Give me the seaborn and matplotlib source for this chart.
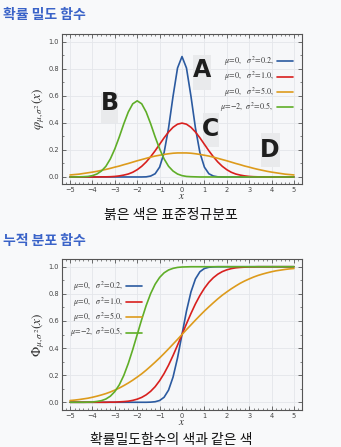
import numpy as np
import pandas as pd
import matplotlib
matplotlib.use("Agg")
import matplotlib.pyplot as plt
from matplotlib.patches import Rectangle
from matplotlib.ticker import MultipleLocator
import seaborn as sns

# ---------------- data ----------------
x = np.round(np.linspace(-5, 5, 51), 1)

pdf_a = [0, 0, 0, 0, 0, 0, 0, 0, 0, 0, 0, 0, 0, 0, 0, 0, 0,
         0.001, 0.007, 0.024, 0.073, 0.180, 0.363, 0.598, 0.807, 0.892,
         0.807, 0.598, 0.363, 0.180, 0.073, 0.024, 0.007, 0.001,
         0, 0, 0, 0, 0, 0, 0, 0, 0, 0, 0, 0, 0, 0, 0, 0, 0]
pdf_c = [0, 0, 0, 0, 0, 0, 0, 0.001, 0.001, 0.002, 0.004, 0.008, 0.014, 0.022,
         0.035, 0.054, 0.079, 0.111, 0.150, 0.194, 0.242, 0.290, 0.333, 0.368,
         0.391, 0.399,
         0.391, 0.368, 0.333, 0.290, 0.242, 0.194, 0.150, 0.111, 0.079, 0.054,
         0.035, 0.022, 0.014, 0.008, 0.004, 0.002, 0.001, 0.001, 0, 0, 0, 0, 0, 0, 0]
pdf_d = [0.015, 0.018, 0.021, 0.026, 0.031, 0.036, 0.042, 0.049, 0.056, 0.064,
         0.073, 0.081, 0.091, 0.100, 0.110, 0.120, 0.129, 0.138, 0.147, 0.155,
         0.161, 0.167, 0.172, 0.176, 0.178, 0.178,
         0.178, 0.176, 0.172, 0.167, 0.161, 0.155, 0.147, 0.138, 0.129, 0.120,
         0.110, 0.100, 0.091, 0.081, 0.073, 0.064, 0.056, 0.049, 0.042, 0.036,
         0.031, 0.026, 0.021, 0.018, 0.015]
pdf_b = [0, 0, 0.001, 0.002, 0.004, 0.010, 0.022, 0.044, 0.079, 0.134, 0.208,
         0.297, 0.394, 0.481, 0.542, 0.564, 0.542, 0.481, 0.394, 0.297, 0.208,
         0.134, 0.079, 0.044, 0.022, 0.010,
         0.004, 0.002, 0.001, 0, 0, 0, 0, 0, 0, 0, 0, 0, 0, 0, 0, 0, 0, 0, 0, 0,
         0, 0, 0, 0, 0]

cdf_a = [0, 0, 0, 0, 0, 0, 0, 0, 0, 0, 0, 0, 0, 0, 0, 0, 0,
         0.000, 0.001, 0.004, 0.013, 0.037, 0.090, 0.186, 0.327, 0.500,
         0.673, 0.814, 0.910, 0.963, 0.987, 0.996, 0.999, 1.000,
         1, 1, 1, 1, 1, 1, 1, 1, 1, 1, 1, 1, 1, 1, 1, 1, 1]
cdf_c = [0, 0, 0, 0, 0, 0, 0, 0, 0, 0.001, 0.001, 0.003, 0.005, 0.008, 0.014,
         0.023, 0.036, 0.055, 0.081, 0.115, 0.159, 0.212, 0.274, 0.345, 0.421,
         0.500,
         0.579, 0.655, 0.726, 0.788, 0.841, 0.885, 0.919, 0.945, 0.964, 0.977,
         0.986, 0.992, 0.995, 0.997, 0.999, 0.999, 1, 1, 1, 1, 1, 1, 1, 1, 1]
cdf_d = [0.013, 0.016, 0.020, 0.025, 0.030, 0.037, 0.045, 0.054, 0.064, 0.076,
         0.090, 0.105, 0.123, 0.142, 0.163, 0.186, 0.210, 0.237, 0.266, 0.296,
         0.327, 0.360, 0.394, 0.429, 0.464, 0.500,
         0.536, 0.571, 0.606, 0.640, 0.673, 0.704, 0.734, 0.763, 0.790, 0.814,
         0.837, 0.858, 0.878, 0.895, 0.910, 0.924, 0.936, 0.946, 0.955, 0.963,
         0.970, 0.975, 0.980, 0.984, 0.987]
cdf_b = [0, 0, 0, 0, 0.001, 0.002, 0.006, 0.012, 0.024, 0.045, 0.079, 0.129,
         0.198, 0.286, 0.389, 0.500, 0.611, 0.714, 0.802, 0.871, 0.921, 0.955,
         0.976, 0.988, 0.995, 0.998,
         0.999, 1, 1, 1, 1, 1, 1, 1, 1, 1, 1, 1, 1, 1, 1, 1, 1, 1, 1, 1, 1, 1,
         1, 1, 1]

labels = [r"$\mu\!=\!0,\ \ \:\sigma^2\!=\!0.2,$",
          r"$\mu\!=\!0,\ \ \:\sigma^2\!=\!1.0,$",
          r"$\mu\!=\!0,\ \ \:\sigma^2\!=\!5.0,$",
          r"$\mu\!=\!{-}2,\ \,\sigma^2\!=\!0.5,$"]
colors = ["#2b5aa0", "#d8201e", "#dd9b1c", "#5fae28"]

letters = ["A", "B", "C", "D"]
letter_pos = [(0.88, 0.79), (-3.24, 0.547), (1.29, 0.354), (3.93, 0.20)]

title_pdf = "확률 밀도 함수"
title_cdf = "누적 분포 함수"
caption_pdf = "붉은 색은 표준정규분포"
caption_cdf = "확률밀도함수의 색과 같은 색"

# ---------------- styling ----------------
sns.set_theme(style="ticks")
plt.rcParams["font.family"] = ["Noto Sans CJK KR", "DejaVu Sans"]
plt.rcParams["mathtext.fontset"] = "stix"
plt.rcParams["axes.unicode_minus"] = True

BG = "#f8f9fa"
fig = plt.figure(figsize=(3.41, 4.47), dpi=100, facecolor=BG)

ax1 = fig.add_axes([62 / 341, 1 - 184 / 447, 240 / 341, 150 / 447])
ax2 = fig.add_axes([62 / 341, 1 - 410 / 447, 240 / 341, 151 / 447])

pdf_df = pd.DataFrame({"x": x, "A": pdf_a, "C": pdf_c, "D": pdf_d, "B": pdf_b})
cdf_df = pd.DataFrame({"x": x, "A": cdf_a, "C": cdf_c, "D": cdf_d, "B": cdf_b})
order = ["A", "C", "D", "B"]

for ax, df in ((ax1, pdf_df), (ax2, cdf_df)):
    ax.set_facecolor("#f6f7f9")
    for key, lab, col in zip(order, labels, colors):
        sns.lineplot(data=df, x="x", y=key, ax=ax, color=col, lw=1.2, label=lab)
    ax.set_xlim(-5.36, 5.36)
    ax.set_xticks(range(-5, 6))
    ax.xaxis.set_minor_locator(MultipleLocator(0.2))
    ax.yaxis.set_major_locator(MultipleLocator(0.2))
    ax.yaxis.set_minor_locator(MultipleLocator(0.1))
    ax.grid(True, which="major", color="#e4e6ea", lw=0.6)
    ax.set_axisbelow(True)
    ax.tick_params(which="both", direction="in", top=True, right=True,
                   labelsize=4.8, colors="#555555", labelcolor="#444444", pad=2)
    ax.tick_params(which="major", length=3, width=0.6)
    ax.tick_params(which="minor", length=1.6, width=0.5)
    for sp in ax.spines.values():
        sp.set_color("#555555")
        sp.set_linewidth(0.8)
    ax.set_xlabel(r"$x$", fontsize=8, labelpad=-1, color="#333333")
    for t in ax.get_xticklabels() + ax.get_yticklabels():
        t.set_family("DejaVu Sans")

ax1.set_ylim(-0.052, 1.059)
ax2.set_ylim(-0.057, 1.057)
ticks_y = np.arange(0, 1.01, 0.2)
for ax in (ax1, ax2):
    ax.set_yticks(ticks_y)
    ax.set_yticklabels([f"{v:.1f}" for v in ticks_y], family="DejaVu Sans")
ax1.set_ylabel(r"$\varphi_{\mu,\sigma^2}(x)$", fontsize=9.5, labelpad=1, color="#333333")
ax2.set_ylabel(r"$\Phi_{\mu,\sigma^2}(x)$", fontsize=9.5, labelpad=1, color="#333333")

leg_kw = dict(frameon=False, markerfirst=False, fontsize=5.8, handlelength=2.0,
              handletextpad=0.4, labelspacing=0.25, borderaxespad=0.3)
l1 = ax1.legend(loc="upper right", bbox_to_anchor=(0.985, 0.9), **leg_kw)
l2 = ax2.legend(loc="upper left", bbox_to_anchor=(0.01, 0.9), **leg_kw)
for leg in (l1, l2):
    for t in leg.get_texts():
        t.set_color("#333333")

# letter boxes and letters on the PDF chart
boxes = [(0.49, 0.646, 0.80, 0.26), (-3.62, 0.40, 0.75, 0.224),
         (0.92, 0.22, 0.73, 0.253), (3.53, 0.072, 0.845, 0.252)]
for (bx, by, bw, bh) in boxes:
    ax1.add_patch(Rectangle((bx, by), bw, bh, facecolor="#e9eaec",
                            edgecolor="none", zorder=1.5))
for let, (lx, ly) in zip(letters, letter_pos):
    ax1.text(lx, ly, let, ha="center", va="center", fontsize=17,
             fontweight="bold", color="#1e1e1e", family="DejaVu Sans", zorder=5)

# headings and captions
fig.text(3 / 341, 1 - 15 / 447, title_pdf, fontsize=10, fontweight="bold",
         color="#3a63c8", ha="left", va="center")
fig.text(3 / 341, 1 - 241 / 447, title_cdf, fontsize=10, fontweight="bold",
         color="#3a63c8", ha="left", va="center")
fig.text(171 / 341, 1 - 215 / 447, caption_pdf, fontsize=10,
         color="#111111", ha="center", va="center")
fig.text(171 / 341, 1 - 440 / 447, caption_cdf, fontsize=10,
         color="#111111", ha="center", va="center")

fig.savefig("out.png", dpi=100, facecolor=BG)
